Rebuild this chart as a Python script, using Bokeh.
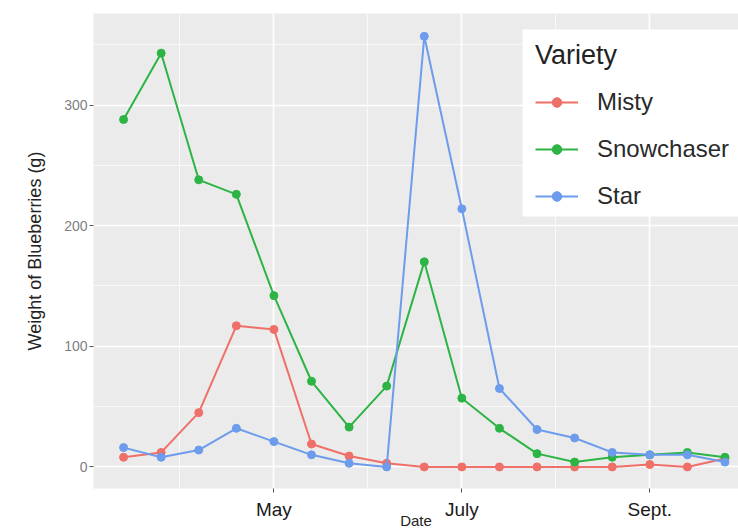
from bokeh.plotting import figure
from bokeh.models import FixedTicker, Legend, LegendItem, Range1d, BoxAnnotation
from bokeh.embed import file_html
from bokeh.resources import INLINE

# ---- data ----
harvest = list(range(1, 18))
misty = [8, 12, 45, 117, 114, 19, 9, 3, 0, 0, 0, 0, 0, 0, 2, 0, 7]
snowchaser = [288, 343, 238, 226, 142, 71, 33, 67, 170, 57, 32, 11, 4, 8, 10, 12, 8]
star = [16, 8, 14, 32, 21, 10, 3, 0, 357, 214, 65, 31, 24, 12, 10, 10, 4]
tick_pos = [5, 10, 15]
tick_labels = ["May", "July", "Sept."]
y_ticks = [0, 100, 200, 300]

FONT = "Liberation Sans"

p = figure(width=738, height=531, output_backend="svg", toolbar_location=None,
           x_range=Range1d(0.2, 17.36), y_range=Range1d(-17.9, 375.9),
           min_border_left=93, min_border_right=0, min_border_top=13, min_border_bottom=39)

p.background_fill_color = "#EBEBEB"
p.border_fill_color = "#FFFFFF"
p.outline_line_color = None

p.xaxis.ticker = FixedTicker(ticks=tick_pos, minor_ticks=[2.5, 7.5, 12.5, 17.5])
p.xaxis.major_label_overrides = {t: l for t, l in zip(tick_pos, tick_labels)}
p.yaxis.ticker = FixedTicker(ticks=y_ticks, minor_ticks=[50, 150, 250, 350])

for ax in (p.xaxis[0], p.yaxis[0]):
    ax.axis_line_color = None
    ax.major_tick_line_color = "#555555"
    ax.major_tick_out = 4
    ax.major_tick_in = 0
    ax.minor_tick_out = 0
    ax.minor_tick_in = 0
    ax.major_label_text_font = FONT
    ax.axis_label_text_font = FONT
    ax.axis_label_text_font_style = "normal"

p.xaxis.major_label_text_font_size = "19px"
p.xaxis.major_label_text_color = "#1a1a1a"
p.xaxis.major_label_standoff = 6
p.xaxis.axis_label = "Date"
p.xaxis.axis_label_text_font_size = "15px"
p.xaxis.axis_label_text_color = "#222222"
p.xaxis.axis_label_standoff = -11

p.yaxis.major_label_text_font_size = "14px"
p.yaxis.major_label_text_color = "#808080"
p.yaxis.major_label_standoff = 2
p.yaxis.axis_label = "Weight of Blueberries (g)"
p.yaxis.axis_label_text_font_size = "18px"
p.yaxis.axis_label_text_color = "#222222"
p.yaxis.axis_label_standoff = 16

for g in (p.xgrid[0], p.ygrid[0]):
    g.grid_line_color = "#FFFFFF"
    g.grid_line_width = 1.6
    g.minor_grid_line_color = "#FFFFFF"
    g.minor_grid_line_width = 0.7

# white legend panel (screen units, relative to the plot frame)
p.add_layout(BoxAnnotation(left=429, right=700, bottom=272, top=459,
                           left_units="screen", right_units="screen",
                           bottom_units="screen", top_units="screen",
                           fill_color="#FFFFFF", fill_alpha=1.0, line_color=None,
                           level="underlay"))

colors = {"Misty": "#EE7069", "Snowchaser": "#2CB444", "Star": "#6C9CEB"}
items = []
for name, vals in (("Misty", misty), ("Snowchaser", snowchaser), ("Star", star)):
    c = colors[name]
    l = p.line(harvest, vals, line_color=c, line_width=2)
    s = p.scatter(harvest, vals, size=8, fill_color=c, line_color=c)
    items.append(LegendItem(label=name, renderers=[l, s]))

legend = Legend(items=items, location=(442, 278), title="Variety",
                title_text_font=FONT, title_text_font_size="27px", title_text_color="#222222",
                title_text_font_style="normal",
                title_standoff=17, label_text_font=FONT, label_text_font_size="24px",
                label_text_color="#2a2a2a", label_standoff=19, glyph_width=43, glyph_height=24,
                label_height=28, spacing=19, padding=0, margin=0,
                background_fill_alpha=0.0, border_line_color=None)
p.add_layout(legend, "center")

open("out.html", "w").write(file_html(p, INLINE))
